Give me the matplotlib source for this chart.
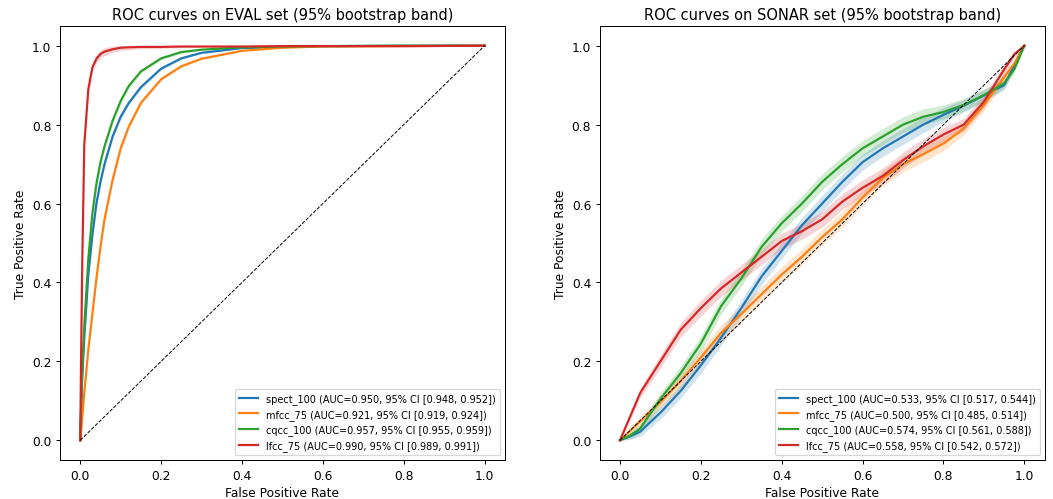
import matplotlib
matplotlib.use("Agg")
import matplotlib.pyplot as plt
import numpy as np

# ---------------------------------------------------------
# EVAL set: mean ROC on a shared FPR grid
# ---------------------------------------------------------
eval_fpr = [0, 0.002, 0.005, 0.01, 0.02, 0.03, 0.04, 0.05, 0.06, 0.08, 0.1,
            0.12, 0.15, 0.2, 0.25, 0.3, 0.4, 0.5, 0.6, 0.8, 1.0]

eval_spect = [0, 0.07, 0.16, 0.26, 0.42, 0.52, 0.60, 0.655, 0.70, 0.77, 0.82,
              0.855, 0.895, 0.942, 0.968, 0.982, 0.994, 0.997, 0.999, 1.0, 1.0]
eval_mfcc = [0, 0.02, 0.06, 0.12, 0.23, 0.32, 0.41, 0.49, 0.56, 0.66, 0.74,
             0.795, 0.855, 0.915, 0.948, 0.967, 0.987, 0.995, 0.998, 0.999, 1.0]
eval_cqcc = [0, 0.08, 0.18, 0.29, 0.46, 0.575, 0.65, 0.705, 0.745, 0.81, 0.86,
             0.898, 0.935, 0.968, 0.984, 0.99, 0.996, 0.998, 0.999, 1.0, 1.0]
eval_lfcc = [0, 0.20, 0.45, 0.75, 0.89, 0.945, 0.967, 0.979, 0.985, 0.991, 0.995,
             0.996, 0.997, 0.997, 0.998, 0.998, 0.998, 0.999, 0.999, 0.999, 1.0]
eval_band = [0, 0.01, 0.012, 0.012, 0.012, 0.012, 0.011, 0.01, 0.01, 0.008, 0.007,
             0.006, 0.005, 0.004, 0.003, 0.002, 0.001, 0.001, 0, 0, 0]

eval_labels = [
    "spect_100 (AUC=0.950, 95% CI [0.948, 0.952])",
    "mfcc_75 (AUC=0.921, 95% CI [0.919, 0.924])",
    "cqcc_100 (AUC=0.957, 95% CI [0.955, 0.959])",
    "lfcc_75 (AUC=0.990, 95% CI [0.989, 0.991])",
]

# ---------------------------------------------------------
# SONAR set
# ---------------------------------------------------------
sonar_fpr = [0, 0.025, 0.05, 0.1, 0.15, 0.2, 0.25, 0.3, 0.35, 0.4, 0.45, 0.5,
             0.55, 0.6, 0.65, 0.7, 0.75, 0.8, 0.85, 0.9, 0.95, 0.975, 1.0]

sonar_spect = [0, 0.01, 0.022, 0.07, 0.125, 0.19, 0.26, 0.335, 0.415, 0.48, 0.545,
               0.60, 0.655, 0.705, 0.74, 0.77, 0.80, 0.825, 0.848, 0.874, 0.90,
               0.95, 1.0]
sonar_mfcc = [0, 0.024, 0.048, 0.097, 0.15, 0.21, 0.272, 0.32, 0.37, 0.42, 0.465,
              0.515, 0.56, 0.615, 0.665, 0.70, 0.725, 0.752, 0.79, 0.85, 0.92,
              0.955, 1.0]
sonar_cqcc = [0, 0.012, 0.03, 0.105, 0.17, 0.245, 0.34, 0.41, 0.49, 0.55, 0.60,
              0.655, 0.70, 0.74, 0.77, 0.80, 0.82, 0.832, 0.85, 0.875, 0.905,
              0.94, 1.0]
sonar_lfcc = [0, 0.06, 0.12, 0.20, 0.28, 0.335, 0.385, 0.425, 0.465, 0.505, 0.53,
              0.56, 0.605, 0.64, 0.67, 0.71, 0.745, 0.775, 0.80, 0.858, 0.94,
              0.978, 1.0]
sonar_band = [0, 0.008, 0.012, 0.016, 0.018, 0.02, 0.02, 0.02, 0.02, 0.02, 0.02,
              0.02, 0.02, 0.02, 0.02, 0.02, 0.02, 0.018, 0.016, 0.015, 0.012,
              0.008, 0]

sonar_labels = [
    "spect_100 (AUC=0.533, 95% CI [0.517, 0.544])",
    "mfcc_75 (AUC=0.500, 95% CI [0.485, 0.514])",
    "cqcc_100 (AUC=0.574, 95% CI [0.561, 0.588])",
    "lfcc_75 (AUC=0.558, 95% CI [0.542, 0.572])",
]

colors = ["#1f77b4", "#ff7f0e", "#2ca02c", "#d62728"]

panels = [
    ("ROC curves on EVAL set (95% bootstrap band)", eval_fpr,
     [eval_spect, eval_mfcc, eval_cqcc, eval_lfcc], eval_band, eval_labels),
    ("ROC curves on SONAR set (95% bootstrap band)", sonar_fpr,
     [sonar_spect, sonar_mfcc, sonar_cqcc, sonar_lfcc], sonar_band, sonar_labels),
]

# 12 x 5.7 in figure rendered at 87.75 dpi -> 1053 x 500 px
fig, axes = plt.subplots(1, 2, figsize=(12, 5.698), dpi=87.75)
fig.subplots_adjust(left=0.057, right=0.992, bottom=0.078, top=0.946, wspace=0.2135)

for ax, (title, fpr, curves, band, labels) in zip(axes, panels):
    x = np.array(fpr)
    b = np.array(band)
    for tpr, color, label in zip(curves, colors, labels):
        y = np.array(tpr)
        ax.fill_between(x, (y - b).clip(0, 1), (y + b).clip(0, 1),
                        color=color, alpha=0.2, linewidth=0)
        ax.plot(x, y, color=color, linewidth=1.8, label=label)

    ax.plot([0, 1], [0, 1], "k--", linewidth=0.8)
    ax.set_title(title)
    ax.set_xlabel("False Positive Rate")
    ax.set_ylabel("True Positive Rate")
    ax.legend(loc="lower right", fontsize=8)

fig.savefig("out.png", dpi=87.75)
